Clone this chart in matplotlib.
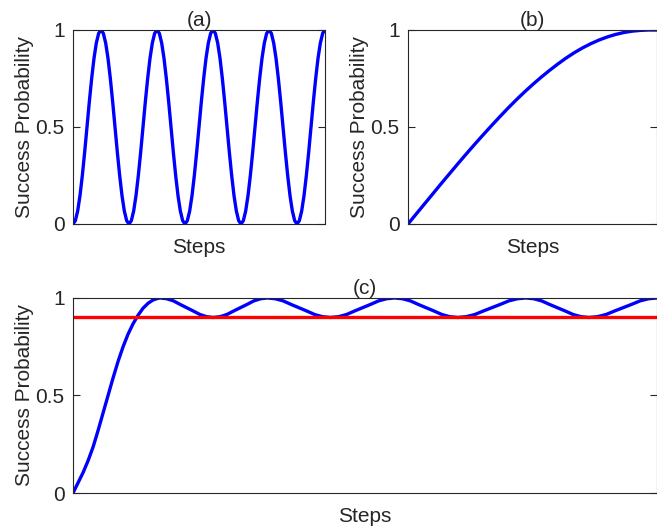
import numpy as np
import matplotlib.pyplot as plt

plt.rcParams['font.family'] = ['Liberation Sans', 'DejaVu Sans']

# (a) oscillating success probability, one value per step
a_prob = [
    0, 0.017, 0.067, 0.146, 0.25, 0.37, 0.5, 0.63, 0.75, 0.854, 0.933, 0.983, 1,
    0.983, 0.933, 0.854, 0.75, 0.63, 0.5, 0.37, 0.25, 0.146, 0.067, 0.017, 0,
    0.017, 0.067, 0.146, 0.25, 0.37, 0.5, 0.63, 0.75, 0.854, 0.933, 0.983, 1,
    0.983, 0.933, 0.854, 0.75, 0.63, 0.5, 0.37, 0.25, 0.146, 0.067, 0.017, 0,
    0.017, 0.067, 0.146, 0.25, 0.37, 0.5, 0.63, 0.75, 0.854, 0.933, 0.983, 1,
    0.983, 0.933, 0.854, 0.75, 0.63, 0.5, 0.37, 0.25, 0.146, 0.067, 0.017, 0,
    0.017, 0.067, 0.146, 0.25, 0.37, 0.5, 0.63, 0.75, 0.854, 0.933, 0.983, 1,
    0.983, 0.933, 0.854, 0.75, 0.63, 0.5, 0.37, 0.25, 0.146, 0.067, 0.017, 0,
    0.017, 0.067, 0.146, 0.25, 0.37, 0.5, 0.63, 0.75, 0.854, 0.933, 0.983, 1,
]

# (b) slow monotone rise, one value per step
b_prob = [0, 0.052, 0.104, 0.156, 0.208, 0.259, 0.31, 0.36, 0.409, 0.457,
          0.504, 0.55, 0.595, 0.638, 0.679, 0.718, 0.755, 0.79, 0.823, 0.854,
          0.882, 0.907, 0.929, 0.948, 0.964, 0.977, 0.987, 0.994, 0.998, 1.0, 1.0]

# (c) rise then small oscillation above the threshold
c_steps = [0, 5, 10, 15, 20, 25, 30, 35, 40, 45, 50, 55, 60, 65, 70, 75, 80, 84,
           87, 93.6, 100.3, 106.9, 113.5, 120.1, 126.8, 133.4, 140,
           146.8, 153.5, 160.3, 167, 173.8, 180.5, 187.3, 194,
           201.9, 209.8, 217.6, 225.5, 233.4, 241.3, 249.1, 257,
           265, 273, 281, 289, 297, 305, 313, 321,
           328.9, 336.8, 344.6, 352.5, 360.4, 368.3, 376.1, 384,
           392.5, 401, 409.5, 418, 426.5, 435, 443.5, 452,
           459.9, 467.8, 475.6, 483.5, 491.4, 499.3, 507.1, 515,
           523.5, 532, 540.5, 549, 557.5, 566, 574.5, 583]
c_prob = [0, 0.052, 0.104, 0.165, 0.235, 0.32, 0.41, 0.50, 0.59, 0.675, 0.75, 0.815,
          0.868, 0.912, 0.948, 0.973, 0.99, 0.997,
          1.0, 0.996, 0.985, 0.967, 0.95, 0.933, 0.915, 0.904, 0.90,
          0.904, 0.915, 0.933, 0.95, 0.967, 0.985, 0.996, 1.0,
          0.996, 0.985, 0.967, 0.95, 0.933, 0.915, 0.904, 0.90,
          0.904, 0.915, 0.933, 0.95, 0.967, 0.985, 0.996, 1.0,
          0.996, 0.985, 0.967, 0.95, 0.933, 0.915, 0.904, 0.90,
          0.904, 0.915, 0.933, 0.95, 0.967, 0.985, 0.996, 1.0,
          0.996, 0.985, 0.967, 0.95, 0.933, 0.915, 0.904, 0.90,
          0.904, 0.915, 0.933, 0.95, 0.967, 0.985, 0.996, 1.0]
threshold_steps = [0, 583]
threshold_prob = [0.9, 0.9]

yticks = [0, 0.5, 1]
yticklabels = ['0', '0.5', '1']

txt = '#262626'


def style_axes(ax, xmax, title):
    ax.set_xlim(0, xmax)
    ax.set_ylim(0, 1)
    ax.set_xticks([])
    ax.set_yticks(yticks)
    ax.set_yticklabels(yticklabels)
    ax.tick_params(axis='y', direction='in', length=5, width=0.8, pad=6,
                   labelsize=15, colors=txt, right=True)
    for s in ax.spines.values():
        s.set_color(txt)
        s.set_linewidth(0.8)
    ax.set_xlabel('Steps', fontsize=15, color=txt, labelpad=10)
    ax.set_ylabel('Success Probability', fontsize=15, color=txt, labelpad=1)
    ax.set_title(title, fontsize=15, color=txt, pad=3)


fig = plt.figure(figsize=(6.57, 5.30), dpi=100)

ax1 = fig.add_axes([0.1111, 0.5774, 0.3836, 0.366])
ax1.plot(np.arange(len(a_prob)), a_prob, color='blue', lw=2.4)
style_axes(ax1, len(a_prob) - 1, '(a)')

ax2 = fig.add_axes([0.621, 0.5774, 0.379, 0.366])
ax2.plot(np.arange(len(b_prob)), b_prob, color='blue', lw=2.4)
style_axes(ax2, len(b_prob) - 1, '(b)')

ax3 = fig.add_axes([0.1111, 0.0698, 0.889, 0.368])
ax3.plot(c_steps, c_prob, color='blue', lw=2.4)
ax3.plot(threshold_steps, threshold_prob, color='red', lw=2.4)
style_axes(ax3, 583, '(c)')

fig.savefig('out.png', dpi=100)
